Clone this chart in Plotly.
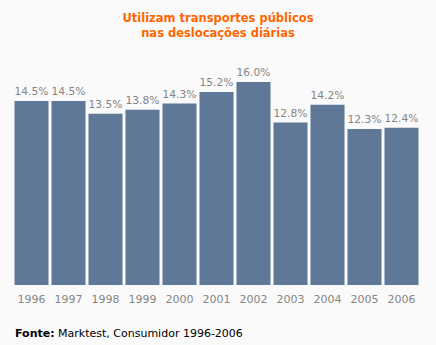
import plotly.graph_objects as go

years = ["1996", "1997", "1998", "1999", "2000", "2001", "2002", "2003", "2004", "2005", "2006"]
values = [14.5, 14.5, 13.5, 13.8, 14.3, 15.2, 16.0, 12.8, 14.2, 12.3, 12.4]
labels = [f"{v:.1f}%" for v in values]

FONT = "DejaVu Sans, Verdana, sans-serif"

fig = go.Figure(go.Bar(
    x=years, y=values, text=labels, textposition="outside",
    textfont=dict(family=FONT, size=11.5, color="#858585"),
    marker=dict(color="#5f7897", line=dict(width=0)),
    cliponaxis=False,
))

fig.update_layout(
    width=436, height=345,
    margin=dict(l=13, r=16, t=60, b=60),
    paper_bgcolor="#fafafa", plot_bgcolor="#fafafa",
    bargap=0.08,
    showlegend=False,
    title=dict(
        text="<b>Utilizam transportes públicos<br>nas deslocações diárias</b>",
        x=0.5, xanchor="center", y=1 - 22 / 345, yanchor="middle", yref="container",
        font=dict(family=FONT, size=11.5, color="#ff6600"),
    ),
    xaxis=dict(showgrid=False, zeroline=False, showline=False, ticks="",
               ticklabelstandoff=6,
               tickfont=dict(family=FONT, size=11, color="#858585")),
    yaxis=dict(range=[0, 17.73], visible=False),
    annotations=[dict(
        text="<b>Fonte:</b> Marktest, Consumidor 1996-2006",
        xref="paper", yref="paper", x=0, y=-48 / 225, xanchor="left", yanchor="middle",
        showarrow=False, font=dict(family=FONT, size=11, color="#000000"),
    )],
)

fig.write_html("out.html")
